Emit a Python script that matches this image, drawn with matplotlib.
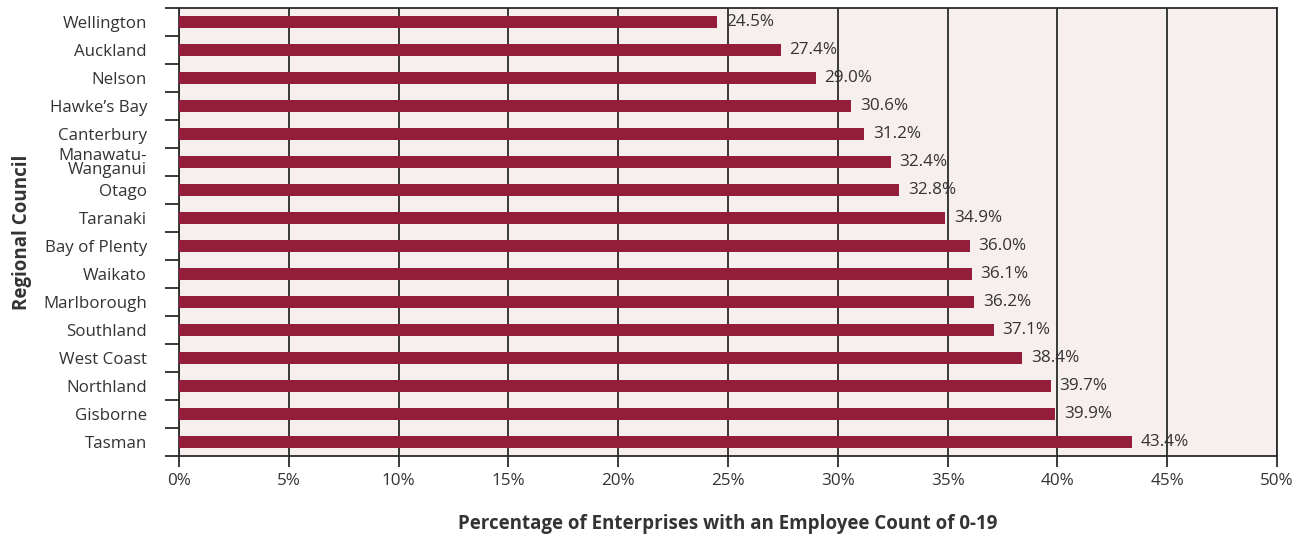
import matplotlib
matplotlib.use("Agg")
import matplotlib.pyplot as plt
import numpy as np

regions = ["Wellington", "Auckland", "Nelson", "Hawke\u2019s Bay", "Canterbury",
           "Manawatu-\nWanganui", "Otago", "Taranaki", "Bay of Plenty", "Waikato",
           "Marlborough", "Southland", "West Coast", "Northland", "Gisborne", "Tasman"]
share = [24.5, 27.4, 29.0, 30.6, 31.2, 32.4, 32.8, 34.9, 36.0, 36.1,
         36.2, 37.1, 38.4, 39.7, 39.9, 43.4]
x_ticks = [0, 5, 10, 15, 20, 25, 30, 35, 40, 45, 50]

bar_color = "#931D3B"
bg_color = "#F7EEEE"
line_color = "#2b2b2b"
text_color = "#333333"

plt.rcParams["font.family"] = ["Open Sans", "DejaVu Sans"]

fig = plt.figure(figsize=(13.01, 5.41), dpi=100)
ax = fig.add_axes([179 / 1301, 1 - 456 / 541, (1277 - 179) / 1301, (456 - 8) / 541])
ax.set_facecolor(bg_color)

y = np.arange(len(regions))
ax.barh(y, share, height=0.43, color=bar_color, zorder=3)
for yi, v in zip(y, share):
    ax.text(v + 0.4, yi, f"{v:.1f}%", va="center", ha="left",
            fontsize=12.3, color=text_color, zorder=4)

ax.set_xlim(0, 50)
ax.set_ylim(len(regions) - 0.5, -0.5)
ax.set_xticks(x_ticks)
ax.set_xticklabels([f"{t}%" for t in x_ticks], fontsize=12.3, color=text_color)
ax.set_yticks(y)
ax.set_yticklabels(regions, fontsize=12.2, color=text_color, linespacing=0.8)
ax.tick_params(axis="y", which="major", length=0, pad=23)
ax.set_yticks(np.arange(len(regions) + 1) - 0.5, minor=True)
ax.tick_params(axis="y", which="minor", length=10, width=1.3, color=line_color)
ax.tick_params(axis="x", length=8, width=1.3, color=line_color, pad=4)

ax.grid(axis="x", color=line_color, linewidth=1.3, zorder=1)
for s in ax.spines.values():
    s.set_color(line_color)
    s.set_linewidth(1.3)

ax.set_xlabel("Percentage of Enterprises with an Employee Count of 0-19",
              fontsize=13.5, fontweight="bold", color=text_color, labelpad=18)
ax.set_ylabel("Regional Council", fontsize=13.5, fontweight="bold",
              color=text_color, labelpad=8)

fig.savefig("out.png", dpi=100)
